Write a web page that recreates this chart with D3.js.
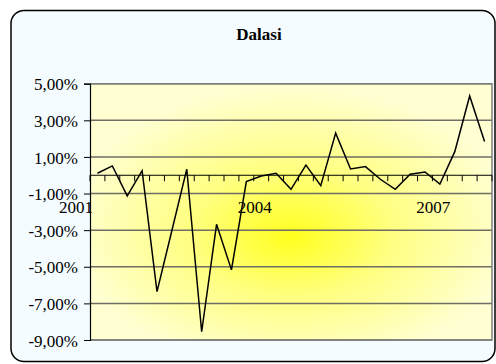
<!DOCTYPE html>
<html>
<head>
<meta charset="utf-8">
<script src="https://cdn.jsdelivr.net/npm/d3@7"></script>
</head>
<body style="margin:0;padding:0;background:#ffffff;">
<svg id="chart" width="496" height="364" style="display:block"></svg>
<script>
// Quarterly change of the Dalasi, 2001 Q1 – 2007 Q3 (percent)
const quarters = [
  "2001 Q1","2001 Q2","2001 Q3","2001 Q4",
  "2002 Q1","2002 Q2","2002 Q3","2002 Q4",
  "2003 Q1","2003 Q2","2003 Q3","2003 Q4",
  "2004 Q1","2004 Q2","2004 Q3","2004 Q4",
  "2005 Q1","2005 Q2","2005 Q3","2005 Q4",
  "2006 Q1","2006 Q2","2006 Q3","2006 Q4",
  "2007 Q1","2007 Q2","2007 Q3"
];
const dalasi = [
   0.11,  0.51, -1.13,  0.25,
  -6.36, -3.02,  0.33, -8.55,
  -2.68, -5.17, -0.35, -0.04,
   0.11, -0.77,  0.56, -0.57,
   2.30,  0.34,  0.47, -0.22,
  -0.77,  0.05,  0.18, -0.48,
   1.29,  4.33,  1.84
];
const yTicks = [5, 3, 1, -1, -3, -5, -7, -9];
const yearLabels = ["2001", "2004", "2007"];
const yearQuarters = ["2001 Q1", "2004 Q1", "2007 Q1"];
const title = "Dalasi";

const FONT = '"Liberation Serif"';
const svg = d3.select("#chart");
const plot = { left: 90, right: 492, top: 83.7, bottom: 340 };

const x = d3.scaleBand().domain(quarters).range([plot.left, plot.right]);
const y = d3.scaleLinear().domain([-9, 5]).range([plot.bottom, plot.top]);

const defs = svg.append("defs");
const grad = defs.append("radialGradient")
  .attr("id", "plotFill")
  .attr("cx", 0.5).attr("cy", 0.56).attr("r", 0.55)
  .attr("fx", 0.5).attr("fy", 0.6);
grad.append("stop").attr("offset", "0%").attr("stop-color", "#ffff1e");
grad.append("stop").attr("offset", "45%").attr("stop-color", "#ffff80");
grad.append("stop").attr("offset", "100%").attr("stop-color", "#ffffd2");

// chart area with rounded frame
svg.append("rect")
  .attr("x", 11).attr("y", 10.5)
  .attr("width", 484).attr("height", 351)
  .attr("rx", 13).attr("ry", 13)
  .attr("fill", "#f4fcff")
  .attr("stroke", "#000").attr("stroke-width", 1.5);

// title
svg.append("text")
  .attr("x", 259).attr("y", 40)
  .attr("text-anchor", "middle")
  .style("font-family", FONT)
  .style("font-size", "17px").style("font-weight", "bold")
  .attr("fill", "#000")
  .text(title);

// plot area
svg.append("rect")
  .attr("x", plot.left).attr("y", plot.top)
  .attr("width", plot.right - plot.left).attr("height", plot.bottom - plot.top)
  .attr("fill", "url(#plotFill)");

// horizontal gridlines
svg.append("g")
  .selectAll("line")
  .data(yTicks)
  .join("line")
  .attr("x1", plot.left).attr("x2", plot.right)
  .attr("y1", d => y(d)).attr("y2", d => y(d))
  .attr("stroke", "#6e6e64").attr("stroke-width", 1.5);

// plot border (top, right and bottom)
svg.append("path")
  .attr("d", `M${plot.left},${plot.top}H${plot.right}V${plot.bottom}H${plot.left}`)
  .attr("fill", "none")
  .attr("stroke", "#808080").attr("stroke-width", 1.5);

// y axis
const yAxis = d3.axisLeft(y)
  .tickValues(yTicks)
  .tickSize(6)
  .tickPadding(6)
  .tickFormat(d => (d < 0 ? "-" : "") + Math.abs(d).toFixed(2).replace(".", ",") + "%");
const gy = svg.append("g")
  .attr("transform", `translate(${plot.left},0)`)
  .call(yAxis);
gy.attr("font-family", null).attr("font-size", null);
gy.select(".domain").attr("stroke", "#000").attr("stroke-width", 1.2);
gy.selectAll(".tick line").attr("stroke", "#000");
gy.selectAll(".tick text")
  .style("font-family", FONT)
  .style("font-size", "17px")
  .attr("fill", "#000")
  .attr("dy", "0.36em");

// x axis at zero, ticks between quarters
const gx = svg.append("g");
gx.append("line")
  .attr("x1", plot.left).attr("x2", plot.right)
  .attr("y1", y(0)).attr("y2", y(0))
  .attr("stroke", "#000").attr("stroke-width", 1.2);
const tickPositions = quarters.map(q => x(q)).concat([x.range()[1]]);
gx.selectAll("line.tick")
  .data(tickPositions)
  .join("line")
  .attr("class", "tick")
  .attr("x1", d => d).attr("x2", d => d)
  .attr("y1", y(0)).attr("y2", y(0) + 6)
  .attr("stroke", "#000").attr("stroke-width", 1);
gx.selectAll("text")
  .data(yearLabels)
  .join("text")
  .attr("x", (d, i) => x(yearQuarters[i]) + 3)
  .attr("y", y(0) + 38)
  .attr("text-anchor", "end")
  .style("font-family", FONT)
  .style("font-size", "17px")
  .attr("fill", "#000")
  .text(d => d);

// series line
const line = d3.line()
  .x((d, i) => x(quarters[i]) + x.bandwidth() / 2)
  .y(d => y(d));
svg.append("path")
  .datum(dalasi)
  .attr("d", line)
  .attr("fill", "none")
  .attr("stroke", "#000")
  .attr("stroke-width", 1.5)
  .attr("stroke-linejoin", "miter");
</script>
</body>
</html>
